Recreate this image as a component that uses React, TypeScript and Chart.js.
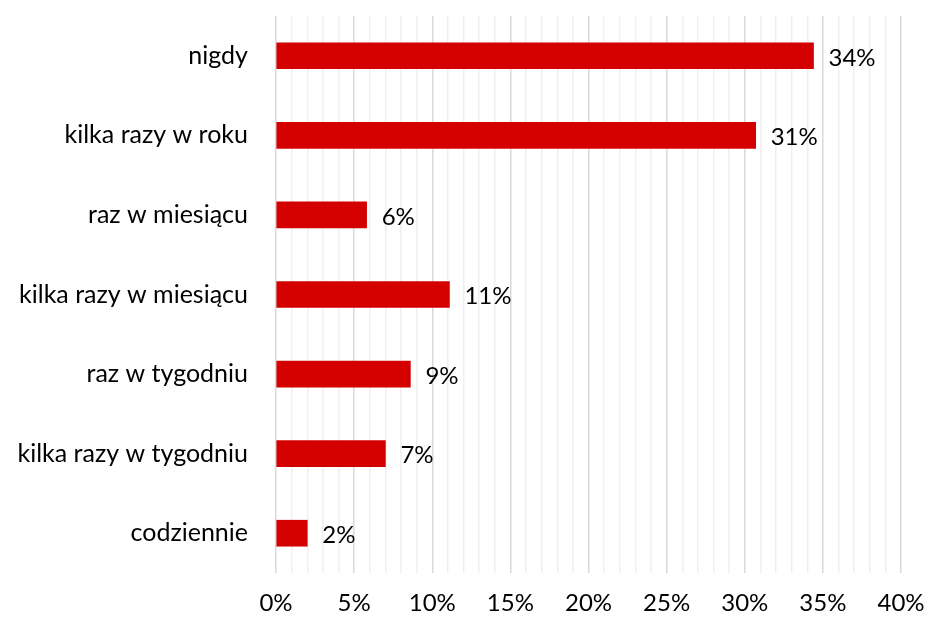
import React, { useEffect, useRef } from "react";
import { Chart, registerables } from "chart.js";

Chart.register(...registerables);

const categories = [
  "nigdy",
  "kilka razy w roku",
  "raz w miesiącu",
  "kilka razy w miesiącu",
  "raz w tygodniu",
  "kilka razy w tygodniu",
  "codziennie",
];
const values = [34.4, 30.7, 5.8, 11.1, 8.6, 7.0, 2.0];
const valueLabels = ["34%", "31%", "6%", "11%", "9%", "7%", "2%"];
const axisMax = 40;
const majorStep = 5;

const FONT = "Lato, 'Open Sans', sans-serif";

const valueLabelPlugin = {
  id: "valueLabels",
  afterDatasetsDraw(chart: any) {
    const { ctx } = chart;
    const meta = chart.getDatasetMeta(0);
    ctx.save();
    ctx.font = `24px ${FONT}`;
    ctx.fillStyle = "#000";
    ctx.textAlign = "left";
    ctx.textBaseline = "middle";
    meta.data.forEach((bar: any, i: number) => {
      ctx.fillText(valueLabels[i], bar.x + 15, bar.y + 2);
    });
    ctx.restore();
  },
};

export default function App() {
  const ref = useRef<HTMLCanvasElement | null>(null);
  useEffect(() => {
    if (!ref.current) return;
    const chart = new Chart(ref.current, {
      type: "bar",
      data: {
        labels: categories,
        datasets: [
          {
            data: values,
            backgroundColor: "#d40000",
            borderWidth: 0,
            barThickness: 26,
          },
        ],
      },
      options: {
        indexAxis: "y",
        animation: false,
        responsive: true,
        maintainAspectRatio: false,
        layout: { padding: { top: 16, right: 27, left: 0, bottom: 0 } },
        plugins: { legend: { display: false }, tooltip: { enabled: false } },
        scales: {
          x: {
            min: 0,
            max: axisMax,
            ticks: {
              stepSize: 1,
              autoSkip: false,
              maxRotation: 0,
              padding: 16,
              color: "#000",
              font: { family: FONT, size: 24 },
              callback: (v: any) => (Number(v) % majorStep === 0 ? `${v}%` : ""),
            },
            grid: {
              drawTicks: false,
              color: (c: any) =>
                c.tick && c.tick.value % majorStep === 0 ? "#d9d9d9" : "#efefef",
              lineWidth: 1.5,
            },
            border: { display: false },
            afterFit: (s: any) => {
              s.height = 46;
              s.paddingLeft = 0;
              s.paddingRight = 0;
            },
          },
          y: {
            ticks: {
              padding: 28,
              color: "#000",
              font: { family: FONT, size: 25 },
            },
            grid: { display: false, drawTicks: false },
            border: { display: false },
            afterFit: (s: any) => {
              s.width = 276;
              s.paddingTop = 0;
              s.paddingBottom = 0;
            },
          },
        },
      },
      plugins: [valueLabelPlugin],
    });
    return () => chart.destroy();
  }, []);
  return (
    <div style={{ position: "fixed", left: 0, top: 0, width: 928, height: 619, background: "#fff" }}>
      <canvas ref={ref} />
    </div>
  );
}
